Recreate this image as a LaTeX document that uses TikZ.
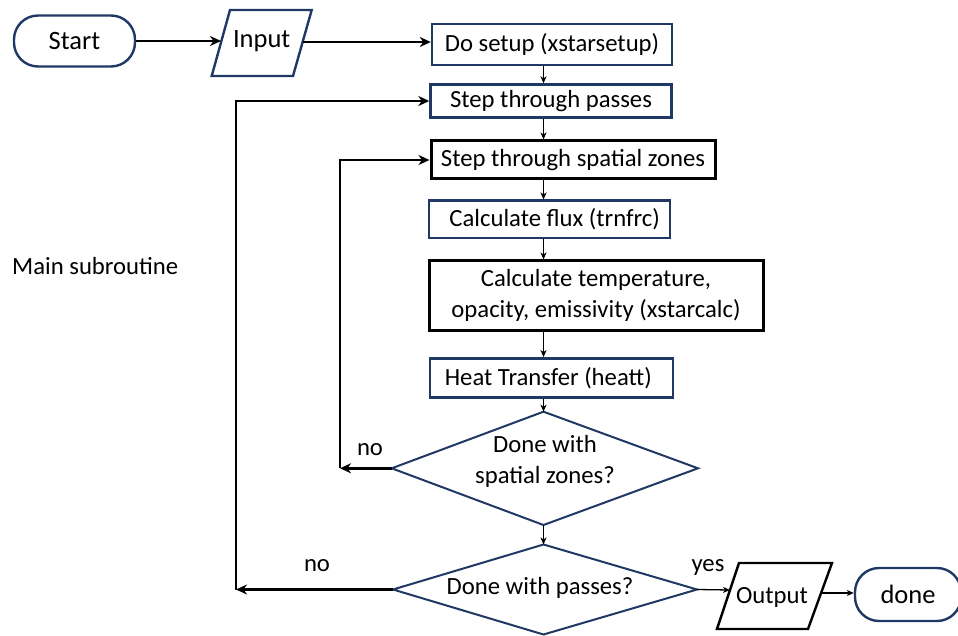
\documentclass[tikz,border=0pt]{standalone}
\usepackage{fontspec}
\setmainfont{Carlito}
\usetikzlibrary{arrows.meta,calc}
\definecolor{navy}{RGB}{32,56,100}
\begin{document}
\begin{tikzpicture}[x=1pt,y=-1pt,
  every node/.style={font=\fontsize{24.7}{31}\selectfont, inner sep=0pt},
  nbox/.style={draw=navy, line width=2.4pt, rectangle},
  kbox/.style={draw=black, line width=3pt, rectangle},
  term/.style={draw=navy, line width=2.4pt, rounded corners=24pt, font=\fontsize{26.5}{31}\selectfont},
  navyshape/.style={draw=navy, line width=2pt, line join=miter},
  blackshape/.style={draw=black, line width=2.4pt, line join=miter},
  thickarrow/.style={line width=2.4pt, -{Stealth[length=11pt,width=10pt,inset=3.5pt]}},
  thinarrow/.style={line width=1.3pt, -{Stealth[length=7pt,width=6pt,inset=2pt]}},
]
\useasboundingbox (0,0) rectangle (958,636);

% terminals
\node[term, minimum width=121pt, minimum height=51pt] (start) at (74.5,41) {Start};
\node[term, minimum width=106pt, minimum height=53pt] (done) at (908,594.5) {done};

% input parallelogram
\coordinate (inTL) at (230,10);
\coordinate (inTR) at (311.7,10);
\coordinate (inBR) at (293,76);
\coordinate (inBL) at (211.7,76);
\draw[navyshape, line width=2.4pt] (inTL) -- (inTR) -- (inBR) -- (inBL) -- cycle;
\node[font=\fontsize{26.5}{31}\selectfont] (input) at (261.7,41.5) {Input};
\coordinate (inL) at (221,42);
\coordinate (inR) at (302.6,42);

% process boxes
\node[nbox, minimum width=240pt, minimum height=41pt] (setup) at (552,44.5) {Do setup (xstarsetup)};
\node[nbox, minimum width=241pt, minimum height=33pt] (passes) at (551,101) {Step through passes};
\node[kbox, minimum width=284pt, minimum height=38pt] (zones) at (573,160) {Step through spatial zones};
\node[nbox, minimum width=241pt, minimum height=37.6pt] (flux) at (549.7,219.5) {\hspace*{10pt}Calculate flux (trnfrc)};
\node[kbox, minimum width=334pt, minimum height=69pt, align=center] (temp) at (596,295.5) {Calculate temperature,\\opacity, emissivity (xstarcalc)};
\node[nbox, minimum width=243pt, minimum height=39pt] (heat) at (551.3,377.8) {Heat Transfer (heatt)\hspace*{6pt}};

% diamonds
\coordinate (d1t) at (543.5,411.7);
\coordinate (d1r) at (698,468.3);
\coordinate (d1b) at (543.5,525);
\coordinate (d1l) at (391.7,468.3);
\draw[navyshape] (d1t) -- (d1r) -- (d1b) -- (d1l) -- cycle;
\node[align=center] (q1) at (545,461) {Done with\\spatial zones?};

\coordinate (d2t) at (543.5,544.5);
\coordinate (d2r) at (697,589.5);
\coordinate (d2b) at (543.5,634.5);
\coordinate (d2l) at (393,589.5);
\draw[navyshape] (d2t) -- (d2r) -- (d2b) -- (d2l) -- cycle;
\node (q2) at (540,588) {Done with passes?};

% output parallelogram
\coordinate (oTL) at (739,563);
\coordinate (oTR) at (832,563);
\coordinate (oBR) at (808,629);
\coordinate (oBL) at (717,629);
\draw[blackshape] (oTL) -- (oTR) -- (oBR) -- (oBL) -- cycle;
\node (output) at (772,597) {Output};
\coordinate (outL) at (730,590);
\coordinate (outR) at (821,593);

% side text
\node[anchor=west] (main) at (12,266) {Main subroutine};
\node (no1) at (370,450) {no};
\node (no2) at (317,566) {no};
\node (yes) at (708,567) {yes};

% connectors
\coordinate (ax) at (543.5,0);
\coordinate (lp1) at (340,0);
\coordinate (lp2) at (236,0);

\draw[thickarrow] (start.east) -- (start.east -| inL);
\draw[thickarrow] (inR) -- (inR -| setup.west);

\draw[thinarrow] (setup.south -| ax) -- (passes.north -| ax);
\draw[thinarrow] (passes.south -| ax) -- (zones.north -| ax);
\draw[thinarrow] (zones.south -| ax) -- (flux.north -| ax);
\draw[thinarrow] (flux.south -| ax) -- (temp.north -| ax);
\draw[thinarrow] (temp.south -| ax) -- (heat.north -| ax);
\draw[thinarrow] (heat.south -| ax) -- (d1t);
\draw[thinarrow] (d1b) -- (d2t);

\draw[thickarrow] (d1l) -- (d1l -| lp1);
\draw[thickarrow] (d1l -| lp1) -- (lp1 |- zones.west) -- (zones.west);
\draw[thickarrow] (d2l) -- (d2l -| lp2);
\draw[thickarrow] (d2l -| lp2) -- (lp2 |- passes.west) -- (passes.west);

\draw[thinarrow] (d2r) -- (outL);
\draw[thinarrow] (outR) -- (outR -| done.west);
\end{tikzpicture}
\end{document}
